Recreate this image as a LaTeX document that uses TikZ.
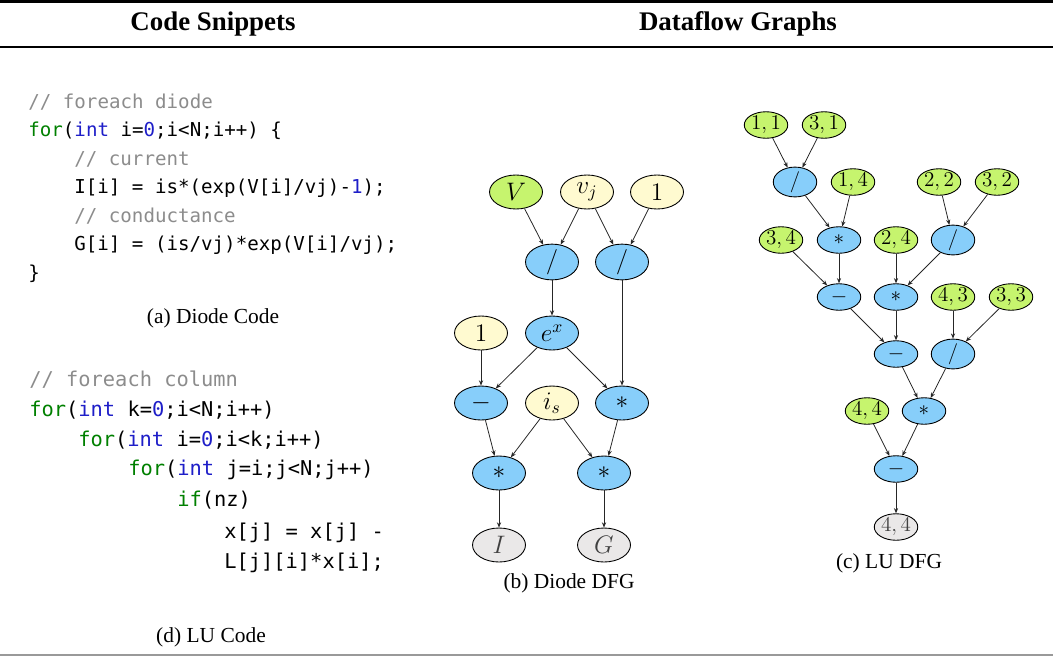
\documentclass[tikz,border=0pt]{standalone}
\usepackage{fix-cm}
\usepackage[no-math]{fontspec}
\setmainfont{Liberation Serif}
\newfontfamily\codefont{DejaVu Sans Mono}
\usetikzlibrary{shapes.geometric,arrows.meta}

\definecolor{opblue}{RGB}{135,206,250}
\definecolor{ingreen}{RGB}{198,244,110}
\definecolor{cstyellow}{RGB}{255,250,208}
\definecolor{outgray}{RGB}{234,232,232}
\definecolor{kwgreen}{RGB}{0,128,0}
\definecolor{kwblue}{RGB}{30,30,200}
\definecolor{cmtgray}{RGB}{140,140,140}

\newcommand{\ckw}[1]{\textcolor{kwgreen}{#1}}
\newcommand{\ctype}[1]{\textcolor{kwblue}{#1}}
\newcommand{\ccmt}[1]{\textcolor{cmtgray}{#1}}

\begin{document}
\begin{tikzpicture}[x=0.02cm,y=-0.02cm,
    dnode/.style={ellipse,draw,line width=0.5pt,minimum width=1.06cm,minimum height=0.68cm,inner sep=0pt,font=\fontsize{14.4}{16}\selectfont},
    lnode/.style={ellipse,draw,line width=0.5pt,minimum width=0.87cm,minimum height=0.53cm,inner sep=0pt,font=\fontsize{12}{14}\selectfont},
    opnode/.style={fill=opblue},
    invar/.style={fill=ingreen},
    cstnode/.style={fill=cstyellow},
    outnode/.style={fill=outgray,text=black!75},
    flow/.style={-{Stealth[length=3pt,width=2.4pt]},line width=0.45pt,black!85},
    dcode/.style={anchor=west,inner sep=0pt,font=\codefont\fontsize{10.9}{13}\selectfont},
    lcode/.style={anchor=west,inner sep=0pt,font=\codefont\fontsize{11.6}{14}\selectfont},
    caption/.style={font=\fontsize{12.2}{14}\selectfont},
    header/.style={font=\fontsize{15.3}{18}\selectfont\bfseries}]

  \useasboundingbox (0,0) rectangle (1053,656);

  % rules and headers
  \draw[line width=1.2pt] (0,1.5) -- (1053,1.5);   % top rule
  \draw[line width=0.8pt] (0,47) -- (1053,47);     % header rule
  \draw[line width=0.6pt,black!40] (0,655) -- (1053,655); % bottom rule
  \node[header] (hcode) at (213,24) {Code Snippets};
  \node[header] (hdfg) at (738,24) {Dataflow Graphs};

  % diode code
  \node[dcode] (c1) at (28,102) {\ccmt{// foreach diode}};
  \node[dcode] (c2) at (28,131) {\ckw{for}(\ctype{int} i=\ctype{0};i<N;i++) \{};
  \node[dcode] (c3) at (74,159) {\ccmt{// current}};
  \node[dcode] (c4) at (74,188) {I[i] = is*(exp(V[i]/vj)-\ctype{1});};
  \node[dcode] (c5) at (74,216) {\ccmt{// conductance}};
  \node[dcode] (c6) at (74,245) {G[i] = (is/vj)*exp(V[i]/vj);};
  \node[dcode] (c7) at (28,274) {\}};
  \node[caption] (capa) at (213,318) {(a) Diode Code};

  % LU code
  \node[lcode] (l1) at (29,380) {\ccmt{// foreach column}};
  \node[lcode] (l2) at (29,410) {\ckw{for}(\ctype{int} k=\ctype{0};i<N;i++)};
  \node[lcode] (l3) at (78,440) {\ckw{for}(\ctype{int} i=\ctype{0};i<k;i++)};
  \node[lcode] (l4) at (128,470) {\ckw{for}(\ctype{int} j=i;j<N;j++)};
  \node[lcode] (l5) at (177,500) {\ckw{if}(nz)};
  \node[lcode] (l6) at (224,533) {x[j] = x[j] -};
  \node[lcode] (l7) at (224,563) {L[j][i]*x[i];};
  \node[caption] (capd) at (211,637) {(d) LU Code};

  % diode DFG
  \node[dnode,invar] (V) at (516,192) {$V$};
  \node[dnode,cstnode] (vj) at (587,192) {$v_j$};
  \node[dnode,cstnode] (oneA) at (657,192) {$1$};
  \node[dnode,opnode] (divA) at (552,262) {$/$};
  \node[dnode,opnode] (divB) at (622,262) {$/$};
  \node[dnode,cstnode] (oneB) at (481,333) {$1$};
  \node[dnode,opnode] (ex) at (552,333) {$e^x$};
  \node[dnode,opnode] (sub) at (481,403) {$-$};
  \node[dnode,cstnode] (is) at (552,403) {$i_s$};
  \node[dnode,opnode] (mulA) at (622,403) {$*$};
  \node[dnode,opnode] (mulI) at (499,473) {$*$};
  \node[dnode,opnode] (mulG) at (604,473) {$*$};
  \node[dnode,outnode] (I) at (499,545) {$I$};
  \node[dnode,outnode] (G) at (604,545) {$G$};
  \node[caption] (capb) at (569,583) {(b) Diode DFG};

  \draw[flow] (V) -- (divA);
  \draw[flow] (vj) -- (divA);
  \draw[flow] (vj) -- (divB);
  \draw[flow] (oneA) -- (divB);
  \draw[flow] (divA) -- (ex);
  \draw[flow] (divB) -- (mulA);
  \draw[flow] (oneB) -- (sub);
  \draw[flow] (ex) -- (sub);
  \draw[flow] (ex) -- (mulA);
  \draw[flow] (sub) -- (mulI);
  \draw[flow] (is) -- (mulI);
  \draw[flow] (is) -- (mulG);
  \draw[flow] (mulA) -- (mulG);
  \draw[flow] (mulI) -- (I);
  \draw[flow] (mulG) -- (G);

  % LU DFG
  \node[lnode,invar] (a11) at (766,125) {$1,1$};
  \node[lnode,invar] (a31) at (824,125) {$3,1$};
  \node[lnode,opnode] (d1) at (795,182) {$/$};
  \node[lnode,invar] (a14) at (853,182) {$1,4$};
  \node[lnode,invar] (a22) at (939,182) {$2,2$};
  \node[lnode,invar] (a32) at (997,182) {$3,2$};
  \node[lnode,invar] (a34) at (781,240) {$3,4$};
  \node[lnode,opnode] (m1) at (839,240) {$*$};
  \node[lnode,invar] (a24) at (896,240) {$2,4$};
  \node[lnode,opnode] (d2) at (953,240) {$/$};
  \node[lnode,opnode] (s1) at (839,297) {$-$};
  \node[lnode,opnode] (m2) at (896,297) {$*$};
  \node[lnode,invar] (a43) at (953,297) {$4,3$};
  \node[lnode,invar] (a33) at (1011,297) {$3,3$};
  \node[lnode,opnode] (s2) at (896,354) {$-$};
  \node[lnode,opnode] (d3) at (953,354) {$/$};
  \node[lnode,invar] (a44) at (867,411) {$4,4$};
  \node[lnode,opnode] (m3) at (924,411) {$*$};
  \node[lnode,opnode] (s3) at (896,469) {$-$};
  \node[lnode,outnode] (out) at (896,527) {$4,4$};
  \node[caption] (capc) at (889,563) {(c) LU DFG};

  \draw[flow] (a11) -- (d1);
  \draw[flow] (a31) -- (d1);
  \draw[flow] (d1) -- (m1);
  \draw[flow] (a14) -- (m1);
  \draw[flow] (a22) -- (d2);
  \draw[flow] (a32) -- (d2);
  \draw[flow] (a34) -- (s1);
  \draw[flow] (m1) -- (s1);
  \draw[flow] (a24) -- (m2);
  \draw[flow] (d2) -- (m2);
  \draw[flow] (s1) -- (s2);
  \draw[flow] (m2) -- (s2);
  \draw[flow] (a43) -- (d3);
  \draw[flow] (a33) -- (d3);
  \draw[flow] (s2) -- (m3);
  \draw[flow] (d3) -- (m3);
  \draw[flow] (a44) -- (s3);
  \draw[flow] (m3) -- (s3);
  \draw[flow] (s3) -- (out);

\end{tikzpicture}
\end{document}
